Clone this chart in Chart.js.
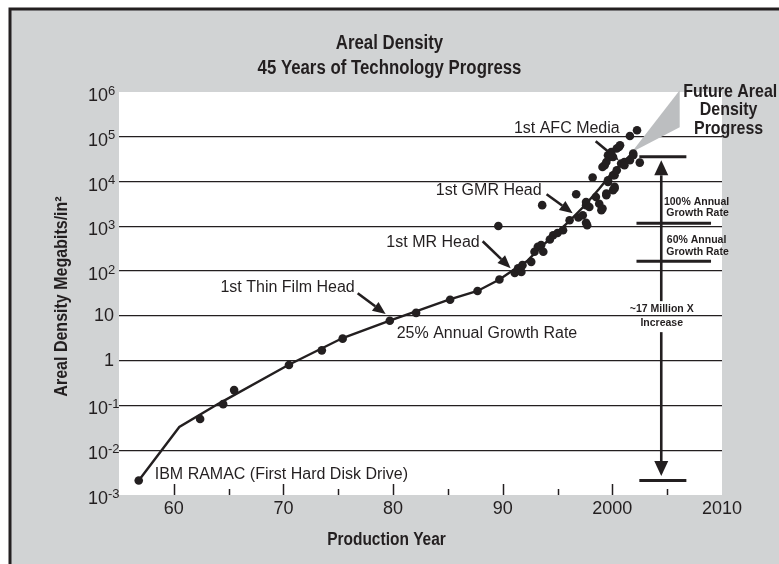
<!DOCTYPE html>
<html><head><meta charset="utf-8">
<script src="https://cdn.jsdelivr.net/npm/chart.js@4.4.0/dist/chart.umd.min.js"></script>
<style>html,body{margin:0;padding:0;background:#fff;}canvas{display:block;}</style>
</head><body>
<canvas id="c" width="779" height="564" style="width:779px;height:564px"></canvas>
<script>
// ---------- data ----------
const titleLines = ['Areal Density', '45 Years of Technology Progress'];
const xTitle = 'Production Year';
const yTitle = 'Areal Density Megabits/in²';
const xTickValues = [1960, 1970, 1980, 1990, 2000, 2010];
const xTickLabels = ['60', '70', '80', '90', '2000', '2010'];
const yTickValues = [1e-3, 1e-2, 1e-1, 1, 10, 100, 1e3, 1e4, 1e5, 1e6];
const yTickBase   = ['10', '10', '10', '1', '10', '10', '10', '10', '10', '10'];
const yTickExp    = ['-3', '-2', '-1', '', '', '2', '3', '4', '5', '6'];

const trendYears  = [1956.8, 1960.5, 1964.1, 1970.4, 1975.4, 1979.7, 1985.1, 1987.7, 1989.7, 1991.0, 1992.2, 1993.4, 1994.9, 1996.1, 1997.5, 1998.8, 2000.0, 2001.3, 2001.9];
const trendValues = [0.0021, 0.033, 0.11, 0.79, 3.2, 7.8, 23, 36, 65, 107, 166, 330, 710, 1320, 2950, 6900, 15800, 31600, 45700];

const dotYears  = [1956.8, 1962.4, 1964.5, 1965.5, 1970.5, 1973.5, 1975.4, 1979.7, 1982.1, 1985.2, 1987.7, 1989.7, 1989.6,
  1991.1, 1991.4, 1991.7, 1991.8, 1992.6, 1992.9, 1993.2, 1993.5, 1993.7, 1994.3, 1994.6, 1995.0, 1995.5, 1996.1, 1996.9,
  1997.6, 1997.7, 1996.7, 1993.6, 1997.3, 1997.6, 1997.6, 1997.9, 1998.2, 1998.5, 1998.8, 1999.0, 1999.1, 1999.45, 1999.45,
  1999.6, 1999.6, 2000.06, 2000.2, 2000.2, 2000.06, 2000.2, 2000.4, 2000.8, 1999.1, 1999.3, 1999.45, 1999.6, 1999.75, 1999.9,
  2000.06, 2000.4, 2000.6, 2000.7, 2001.1, 2001.1, 2001.6, 2001.9, 2001.9, 2001.6, 2002.25, 2002.5];
const dotValues = [0.0021, 0.05, 0.107, 0.22, 0.8, 1.7, 3.1, 7.8, 11.7, 23, 36, 65, 1020,
  91, 116, 96, 136, 161, 270, 350, 380, 270, 510, 630, 710, 820, 1370, 1570,
  1200, 1060, 5200, 2970, 1770, 2970, 3500, 2700, 12300, 4500, 3200, 2300, 2500, 4950, 5400,
  9800, 10700, 6400, 7000, 7600, 13800, 13800, 17900, 25200, 21200, 23100, 27400, 38600, 35400, 45800,
  35400, 54600, 59300, 64700, 27400, 23100, 29900, 38600, 42200, 104000, 140000, 26500];

// annotation anchors (x = year, y = log10 of density)
const notes = [
  {text: '1st Thin Film Head', x: 1976.5, y: 1.642, align: 'right'},
  {text: '1st MR Head', x: 1987.9, y: 2.646, align: 'right'},
  {text: '1st GMR Head', x: 1993.55, y: 3.806, align: 'right'},
  {text: '1st AFC Media', x: 2000.67, y: 5.19, align: 'right'},
  {text: '25% Annual Growth Rate', x: 1980.33, y: 0.615, align: 'left'},
  {text: 'IBM RAMAC (First Hard Disk Drive)', x: 1958.26, y: -2.554, align: 'left'}
];
const noteArrows = [
  {x1: 1976.77, y1: 1.507, x2: 1979.32, y2: 1.04},
  {x1: 1988.17, y1: 2.668, x2: 1990.72, y2: 2.066},
  {x1: 1994.0, y1: 3.717, x2: 1996.38, y2: 3.293},
  {x1: 1998.48, y1: 4.90, x2: 2000.58, y2: 4.476}
];
const smallNotes = [
  {text: '100% Annual', x: 2007.68, y: 3.539},
  {text: 'Growth Rate', x: 2007.77, y: 3.286},
  {text: '60% Annual', x: 2007.68, y: 2.690},
  {text: 'Growth Rate', x: 2007.77, y: 2.416},
  {text: '~17 Million X', x: 2004.5, y: 1.144},
  {text: 'Increase', x: 2004.5, y: 0.845}
];
const futureLines = [
  {text: 'Future Areal', x: 2010.75, y: 6.016},
  {text: 'Density', x: 2010.6, y: 5.603},
  {text: 'Progress', x: 2010.6, y: 5.19}
];
const wedge = [[2001.76, 4.654], [2006.14, 6.04], [2006.14, 5.21]];
const bars = [
  {x1: 2002.46, x2: 2006.75, y: 4.556},
  {x1: 2002.46, x2: 2006.75, y: -2.678},
  {x1: 2002.2, x2: 2009.0, y: 3.07},
  {x1: 2002.2, x2: 2009.0, y: 2.22}
];
const bigArrow = {x: 2004.46, top: 4.475, gapTop: 1.329, gapBottom: 0.637, bottom: -2.576};

// ---------- style ----------
const FONT = '"Liberation Sans", Arial, Helvetica, sans-serif';
const INK = '#231f20';
const GRAY = '#d1d3d4';
const CONDENSE = 0.84;

function px(chart, x, lg) {
  return [chart.scales.x.getPixelForValue(x), chart.scales.y.getPixelForValue(Math.pow(10, lg))];
}
function arrow(ctx, x1, y1, x2, y2, w, hl, hw) {
  const a = Math.atan2(y2 - y1, x2 - x1);
  const bx = x2 - hl * Math.cos(a), by = y2 - hl * Math.sin(a);
  ctx.lineWidth = w; ctx.strokeStyle = INK; ctx.lineCap = 'butt';
  ctx.beginPath(); ctx.moveTo(x1, y1); ctx.lineTo(bx, by); ctx.stroke();
  ctx.fillStyle = INK; ctx.beginPath(); ctx.moveTo(x2, y2);
  ctx.lineTo(bx + hw / 2 * Math.sin(a), by - hw / 2 * Math.cos(a));
  ctx.lineTo(bx - hw / 2 * Math.sin(a), by + hw / 2 * Math.cos(a));
  ctx.closePath(); ctx.fill();
}
function condensedText(ctx, text, x, y, font, sx, rot) {
  ctx.save();
  ctx.font = font; ctx.textAlign = 'center'; ctx.textBaseline = 'middle'; ctx.fillStyle = INK;
  ctx.translate(x, y);
  if (rot) ctx.rotate(rot);
  ctx.scale(sx, 1);
  ctx.fillText(text, 0, 0);
  ctx.restore();
}

const decor = {
  id: 'decor',
  beforeDraw(chart) {
    const {ctx, chartArea: a, width, height} = chart;
    ctx.save();
    ctx.fillStyle = '#fff'; ctx.fillRect(0, 0, width, height);
    ctx.fillStyle = GRAY; ctx.fillRect(10, 9, width, height);
    ctx.strokeStyle = INK; ctx.lineWidth = 3;
    ctx.strokeRect(10, 9, width + 20, height + 20);
    ctx.fillStyle = '#fff'; ctx.fillRect(a.left, a.top, a.right - a.left, a.bottom - a.top);
    ctx.restore();
  },
  beforeDatasetsDraw(chart) {
    const ctx = chart.ctx;
    ctx.save();
    ctx.fillStyle = '#bcbec0';
    ctx.beginPath();
    wedge.forEach((p, i) => { const [x, y] = px(chart, p[0], p[1]); i ? ctx.lineTo(x, y) : ctx.moveTo(x, y); });
    ctx.closePath(); ctx.fill();
    ctx.restore();
  },
  afterDraw(chart) {
    const {ctx, chartArea: a} = chart;
    const xs = chart.scales.x, ys = chart.scales.y;
    ctx.save();
    // main title and axis titles (condensed bold, like the original)
    condensedText(ctx, titleLines[0], chart.width / 2, 43, 'bold 20px ' + FONT, CONDENSE);
    condensedText(ctx, titleLines[1], chart.width / 2, 68, 'bold 20px ' + FONT, CONDENSE);
    condensedText(ctx, xTitle, chart.width / 2 - 3, 540, 'bold 18px ' + FONT, 0.86);
    condensedText(ctx, yTitle, 62, (a.top + a.bottom) / 2 + 3, 'bold 18px ' + FONT, 0.89, -Math.PI / 2);
    // inner tick marks on the x axis
    ctx.strokeStyle = INK; ctx.lineWidth = 1.5;
    xTickValues.forEach(v => {
      [[v, 11], [v + 5, 6]].forEach(([t, len]) => {
        if (t >= xs.max) return;
        const x = Math.round(xs.getPixelForValue(t)) + 0.5;
        ctx.beginPath(); ctx.moveTo(x, a.bottom); ctx.lineTo(x, a.bottom - len); ctx.stroke();
      });
    });
    // y tick labels with superscripts
    ctx.fillStyle = INK; ctx.textBaseline = 'middle';
    ys.ticks.forEach(t => {
      const i = yTickValues.indexOf(t.value);
      if (i < 0) return;
      const y = ys.getPixelForValue(t.value);
      if (yTickExp[i]) {
        ctx.font = '18px ' + FONT; ctx.textAlign = 'right';
        ctx.fillText(yTickBase[i], a.left - 11, y + 4);
        ctx.font = '13px ' + FONT; ctx.textAlign = 'left';
        ctx.fillText(yTickExp[i], a.left - 11, y - 1);
      } else {
        ctx.font = '18px ' + FONT; ctx.textAlign = 'right';
        ctx.fillText(yTickBase[i], a.left - 5, y);
      }
    });
    // annotation texts
    ctx.font = '16px ' + FONT;
    notes.forEach(n => { const [x, y] = px(chart, n.x, n.y); ctx.textAlign = n.align; ctx.fillText(n.text, x, y); });
    noteArrows.forEach(r => {
      const [x1, y1] = px(chart, r.x1, r.y1), [x2, y2] = px(chart, r.x2, r.y2);
      arrow(ctx, x1, y1, x2, y2, 2.6, 13, 11);
    });
    // bars
    ctx.strokeStyle = INK; ctx.lineWidth = 3;
    bars.forEach(b => {
      const [x1, y] = px(chart, b.x1, b.y), [x2] = px(chart, b.x2, b.y);
      ctx.beginPath(); ctx.moveTo(x1, y); ctx.lineTo(x2, y); ctx.stroke();
    });
    // big two-way arrow
    const [ax, ayTop] = px(chart, bigArrow.x, bigArrow.top);
    const [, ayGT] = px(chart, bigArrow.x, bigArrow.gapTop);
    const [, ayGB] = px(chart, bigArrow.x, bigArrow.gapBottom);
    const [, ayBot] = px(chart, bigArrow.x, bigArrow.bottom);
    arrow(ctx, ax, ayGT, ax, ayTop, 2.6, 15, 14);
    arrow(ctx, ax, ayGB, ax, ayBot, 2.6, 15, 14);
    // small bold texts
    ctx.font = 'bold 10.5px ' + FONT; ctx.textAlign = 'center'; ctx.fillStyle = INK;
    smallNotes.forEach(n => { const [x, y] = px(chart, n.x, n.y); ctx.fillText(n.text, x, y); });
    futureLines.forEach(n => { const [x, y] = px(chart, n.x, n.y); condensedText(ctx, n.text, x, y, 'bold 19px ' + FONT, CONDENSE); });
    ctx.restore();
  }
};

new Chart(document.getElementById('c'), {
  type: 'scatter',
  data: {
    datasets: [
      {
        label: 'Products',
        data: dotYears.map((x, i) => ({x, y: dotValues[i]})),
        pointRadius: 4.3, pointHoverRadius: 4.3,
        backgroundColor: INK, borderWidth: 0, showLine: false
      },
      {
        label: 'Trend',
        data: trendYears.map((x, i) => ({x, y: trendValues[i]})),
        showLine: true, borderColor: INK, borderWidth: 2.4, pointRadius: 0, tension: 0, fill: false
      }
    ]
  },
  options: {
    responsive: false, animation: false, devicePixelRatio: 1,
    layout: {padding: {left: 0, right: 0, top: 92, bottom: 0}},
    plugins: {legend: {display: false}, tooltip: {enabled: false}, title: {display: false}},
    scales: {
      x: {
        type: 'linear', position: 'bottom', min: 1955, max: 2010,
        afterBuildTicks: s => { s.ticks = xTickValues.map(v => ({value: v})); },
        afterFit: s => { s.height = 69; },
        grid: {display: false, drawTicks: false}, border: {display: false},
        ticks: {
          color: INK, font: {family: FONT, size: 18}, padding: 3, maxRotation: 0, autoSkip: false,
          callback: v => { const i = xTickValues.indexOf(v); return i < 0 ? '' : xTickLabels[i]; }
        }
      },
      y: {
        type: 'logarithmic', position: 'left', min: 1e-3, max: 1e6,
        afterBuildTicks: s => { s.ticks = yTickValues.map(v => ({value: v})); },
        afterFit: s => { s.width = 119; },
        grid: {
          drawTicks: false, lineWidth: 1.3,
          color: c => (c.tick && (c.tick.value === 1e6 || c.tick.value === 1e-3)) ? 'rgba(0,0,0,0)' : INK
        },
        border: {display: false},
        ticks: {display: false}
      },
      yR: {
        type: 'linear', position: 'right', display: true,
        afterFit: s => { s.width = 57; },
        grid: {display: false, drawTicks: false}, border: {display: false},
        ticks: {display: false}
      }
    }
  },
  plugins: [decor]
});
</script>
</body></html>
